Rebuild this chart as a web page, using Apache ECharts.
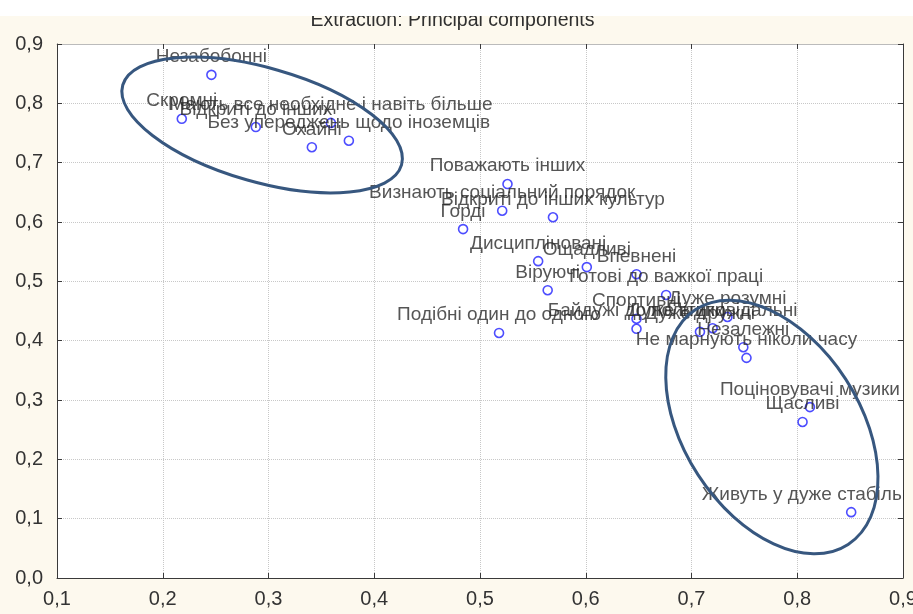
<!DOCTYPE html>
<html><head><meta charset="utf-8">
<script src="https://cdn.jsdelivr.net/npm/echarts@6/dist/echarts.min.js"></script>
<style>html,body{margin:0;padding:0;background:#fdf9ee}#c{width:913px;height:614px}</style>
</head><body><div id="c"></div>
<script>
const titleText = 'Extraction: Principal components';
const labels = [
  'Незабобонні', 'Скромні', 'Відкриті до інших', 'Мають все необхідне і навіть більше',
  'Охайні', 'Без упереджень щодо іноземців', 'Поважають інших', 'Визнають соціальний порядок',
  'Відкриті до інших культур', 'Горді', 'Дисципліновані', 'Ощадливі', 'Впевнені', 'Віруючі',
  'Готові до важкої праці', 'Подібні один до одного', 'Спортивні', 'Байдужі до політики',
  'Дуже дружні', 'Дуже відповідальні', 'Дуже розумні', 'Незалежні', 'Не марнують ніколи часу',
  'Поціновувачі музики', 'Щасливі', 'Живуть у дуже стабільних умовах'
];
const xValues = [0.246, 0.218, 0.288, 0.359, 0.341, 0.376, 0.526, 0.521, 0.569, 0.484, 0.555, 0.601, 0.648, 0.564,
  0.676, 0.518, 0.648, 0.648, 0.708, 0.720, 0.734, 0.749, 0.752, 0.812, 0.805, 0.851];
const yValues = [0.848, 0.774, 0.760, 0.767, 0.726, 0.737, 0.664, 0.619, 0.608, 0.588, 0.534, 0.524, 0.512, 0.485,
  0.477, 0.413, 0.437, 0.420, 0.415, 0.421, 0.440, 0.389, 0.371, 0.288, 0.263, 0.111];
const xTicks = [0.1, 0.2, 0.3, 0.4, 0.5, 0.6, 0.7, 0.8, 0.9];
const yTicks = [0.0, 0.1, 0.2, 0.3, 0.4, 0.5, 0.6, 0.7, 0.8, 0.9];
// annotation outlines: centre in data units
const groupCentres = [[0.294, 0.7635], [0.776, 0.2545]];

const fmt = v => v.toFixed(1).replace('.', ',');
const chart = echarts.init(document.getElementById('c'));
const GL = 57, GR = 10, GT = 44, GB = 36;
const axisFont = {fontFamily: 'Liberation Sans', fontSize: 20, color: '#333'};
const xAxisBase = {type: 'value', min: xTicks[0], max: xTicks[xTicks.length - 1], interval: 0.1};
const yAxisBase = {type: 'value', min: yTicks[0], max: yTicks[yTicks.length - 1], interval: 0.1};
chart.setOption({
  backgroundColor: '#fdf9ee',
  animation: false,
  grid: {left: GL, right: GR, top: GT, bottom: GB, show: true, backgroundColor: '#ffffff', borderWidth: 0,
    containLabel: false, outerBoundsMode: 'none'},
  xAxis: [
    Object.assign({}, xAxisBase, {position: 'bottom',
      axisLine: {show: true, onZero: false, lineStyle: {color: '#3a3a3a', width: 1}},
      axisTick: {show: true, inside: true, length: 5, lineStyle: {color: '#3a3a3a'}},
      axisLabel: Object.assign({formatter: fmt, margin: 11}, axisFont),
      splitLine: {show: true, lineStyle: {color: '#c8c8c8', type: 'dotted'}}}),
    Object.assign({}, xAxisBase, {position: 'top',
      axisLine: {show: true, onZero: false, lineStyle: {color: '#bbbbbb', width: 1}},
      axisTick: {show: true, inside: true, length: 5, lineStyle: {color: '#3a3a3a'}},
      axisLabel: {show: false}, splitLine: {show: false}})
  ],
  yAxis: [
    Object.assign({}, yAxisBase, {position: 'left',
      axisLine: {show: true, onZero: false, lineStyle: {color: '#3a3a3a', width: 1}},
      axisTick: {show: true, inside: true, length: 5, lineStyle: {color: '#3a3a3a'}},
      axisLabel: Object.assign({formatter: fmt, margin: 14}, axisFont),
      splitLine: {show: true, lineStyle: {color: '#c8c8c8', type: 'dotted'}}}),
    Object.assign({}, yAxisBase, {position: 'right',
      axisLine: {show: true, onZero: false, lineStyle: {color: '#3a3a3a', width: 1}},
      axisTick: {show: true, inside: true, length: 5, lineStyle: {color: '#3a3a3a'}},
      axisLabel: {show: false}, splitLine: {show: false}})
  ],
  series: [{
    type: 'scatter',
    symbol: 'circle',
    symbolSize: 9,
    itemStyle: {color: '#ffffff', borderColor: '#2020ff', borderWidth: 1.6},
    label: {show: true, position: 'top', distance: 3, formatter: p => labels[p.dataIndex],
      fontFamily: 'Liberation Sans', fontSize: 19, color: '#2b2b2b'},
    data: xValues.map((x, i) => [x, yValues[i]])
  }]
});

const c1 = chart.convertToPixel({gridIndex: 0}, groupCentres[0]);
const c2 = chart.convertToPixel({gridIndex: 0}, groupCentres[1]);
const W = 913, H = 614;
const rightEdge = W - GR;
chart.setOption({
  graphic: [
    {type: 'ellipse', x: c1[0], y: c1[1], rotation: -16 * Math.PI / 180, z: 20,
      shape: {cx: 0, cy: 0, rx: 145, ry: 57},
      style: {fill: null, stroke: '#37577f', lineWidth: 3}},
    {type: 'ellipse', x: c2[0], y: c2[1], rotation: -57 * Math.PI / 180, z: 20,
      shape: {cx: 0, cy: 0, rx: 140, ry: 88},
      style: {fill: null, stroke: '#37577f', lineWidth: 3}},
    {type: 'rect', z: 30, shape: {x: rightEdge + 1, y: GT - 30, width: GR, height: H - GB - GT + 30}, style: {fill: '#fdf9ee'}},
    {type: 'text', z: 30, x: W / 2 - 4, y: 21,
      style: {text: titleText, fontFamily: 'Liberation Sans', fontSize: 19.5, fill: '#303030',
        align: 'center', verticalAlign: 'middle'}},
    {type: 'rect', z: 31, shape: {x: 0, y: 0, width: W, height: 16}, style: {fill: '#ffffff'}}
  ]
});
</script></body></html>
